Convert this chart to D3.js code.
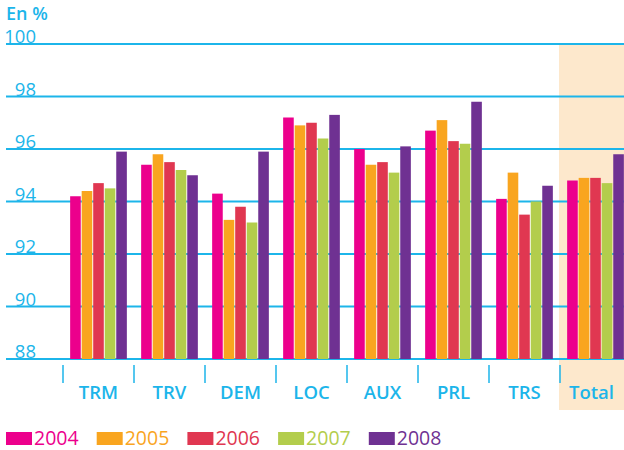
<!DOCTYPE html>
<html>
<head>
<meta charset="utf-8">
<script src="https://cdn.jsdelivr.net/npm/d3@7"></script>
<style>
  body { margin: 0; background: #fff; }
  text { font-family: 'Open Sans', sans-serif; }
</style>
</head>
<body>
<div id="chart"></div>
<script>
var width = 624
var height = 450

var categories = ['TRM', 'TRV', 'DEM', 'LOC', 'AUX', 'PRL', 'TRS', 'Total']
var years = ['2004', '2005', '2006', '2007', '2008']
var v2004 = [94.2, 95.4, 94.3, 97.2, 96.0, 96.7, 94.1, 94.8]
var v2005 = [94.4, 95.8, 93.3, 96.9, 95.4, 97.1, 95.1, 94.9]
var v2006 = [94.7, 95.5, 93.8, 97.0, 95.5, 96.3, 93.5, 94.9]
var v2007 = [94.5, 95.2, 93.2, 96.4, 95.1, 96.2, 94.0, 94.7]
var v2008 = [95.9, 95.0, 95.9, 97.3, 96.1, 97.8, 94.6, 95.8]
var yTicks = [88, 90, 92, 94, 96, 98, 100]

var series = [v2004, v2005, v2006, v2007, v2008]
var colors = ['#ec008c', '#f9a51f', '#e03751', '#b3cd4c', '#6f3192']
var blue = '#1cb5ea'

var svg = d3.select('#chart').append('svg')
    .attr('width', width)
    .attr('height', height)

var x0 = d3.scaleBand()
    .domain(categories)
    .range([63, 631])

var x1 = d3.scaleBand()
    .domain(years)
    .range([0, x0.bandwidth()])
    .paddingInner(0.08)
    .paddingOuter(0.62)

var y = d3.scaleLinear()
    .domain([88, 100])
    .range([359, 44])

// highlighted total column
svg.append('rect')
    .attr('x', x0('Total') - 1)
    .attr('y', y(100))
    .attr('width', width - x0('Total') + 1)
    .attr('height', 410 - y(100))
    .attr('fill', '#fde8cc')

// gridlines
svg.append('g')
    .selectAll('line')
    .data(yTicks)
    .enter().append('line')
    .attr('x1', 6)
    .attr('x2', width)
    .attr('y1', function(d) { return y(d) })
    .attr('y2', function(d) { return y(d) })
    .attr('stroke', blue)
    .attr('stroke-width', 2)

svg.append('g')
    .selectAll('text')
    .data(yTicks)
    .enter().append('text')
    .attr('x', 36)
    .attr('y', function(d) { return y(d) - 1 })
    .attr('text-anchor', 'end')
    .attr('font-size', 18.5)
    .attr('fill', blue)
    .text(function(d) { return d })

svg.append('text')
    .attr('x', 6)
    .attr('y', 20)
    .attr('font-size', 18)
    .attr('font-weight', 600)
    .attr('fill', blue)
    .text('En %')

// bars
var groups = svg.append('g')
    .selectAll('g')
    .data(categories)
    .enter().append('g')
    .attr('transform', function(d) { return 'translate(' + x0(d) + ',0)' })

groups.selectAll('rect')
    .data(function(d, i) {
        return years.map(function(yr, j) { return { year: yr, value: series[j][i], color: colors[j] } })
    })
    .enter().append('rect')
    .attr('x', function(d) { return x1(d.year) })
    .attr('width', x1.bandwidth())
    .attr('y', function(d) { return y(d.value) })
    .attr('height', function(d) { return y(88) - y(d.value) })
    .attr('fill', function(d) { return d.color })

// category separators and labels
svg.append('g')
    .selectAll('line')
    .data(categories)
    .enter().append('line')
    .attr('x1', function(d) { return x0(d) })
    .attr('x2', function(d) { return x0(d) })
    .attr('y1', 365)
    .attr('y2', 383)
    .attr('stroke', blue)
    .attr('stroke-width', 1.5)

svg.append('g')
    .selectAll('text')
    .data(categories)
    .enter().append('text')
    .attr('x', function(d) { return x0(d) + x0.bandwidth() / 2 - (d === 'Total' ? 4 : 0) })
    .attr('y', 399)
    .attr('text-anchor', 'middle')
    .attr('font-size', 18.5)
    .attr('font-weight', 600)
    .attr('fill', blue)
    .text(function(d) { return d })

// legend
var legend = svg.append('g')
    .selectAll('g')
    .data(years)
    .enter().append('g')
    .attr('transform', function(d, i) { return 'translate(' + (6 + i * 90.7) + ',0)' })

legend.append('rect')
    .attr('x', 0)
    .attr('y', 432)
    .attr('width', 26)
    .attr('height', 13)
    .attr('fill', function(d, i) { return colors[i] })

legend.append('text')
    .attr('x', 28)
    .attr('y', 445)
    .attr('font-size', 19.5)
    .attr('fill', function(d, i) { return colors[i] })
    .text(function(d) { return d })
</script>
</body>
</html>
